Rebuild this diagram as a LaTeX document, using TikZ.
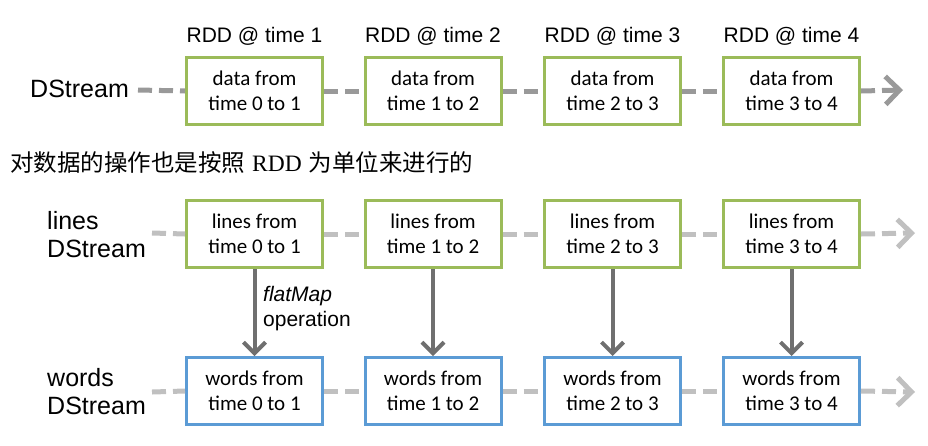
\documentclass[tikz,border=0pt]{standalone}
\usepackage{fontspec}
\setmainfont{Liberation Sans}
\newfontfamily\boxfont{Carlito}
\newfontfamily\cjkfont{Noto Sans CJK SC}
\newfontfamily\romanfont{Liberation Serif}
\usetikzlibrary{arrows.meta,positioning}

\definecolor{rddgreen}{HTML}{9BBB59}
\definecolor{rddblue}{HTML}{5B9BD5}
\definecolor{streamgray}{HTML}{999999}
\definecolor{lightgray}{HTML}{C0C0C0}
\definecolor{opgray}{HTML}{6F6F6F}

\tikzset{
  rdd/.style={draw=#1, line width=3pt, fill=white, minimum width=136pt, minimum height=67pt,
    inner sep=0pt, align=center, font=\boxfont\fontsize{21}{25}\selectfont},
  title/.style={inner sep=0pt, font=\fontsize{21}{25}\selectfont},
  stream/.style={inner sep=0pt, anchor=west, align=left, font=\fontsize{25}{28}\selectfont},
  flow/.style={#1, line width=5pt, dash pattern=on 14pt off 7pt},
  flowend/.style={flow=#1, -{Straight Barb[length=14pt,width=28pt,line width=5pt]}},
  op/.style={opgray, line width=4pt, -{Straight Barb[length=11pt,width=22pt,line width=4pt]}}
}

\begin{document}
\begin{tikzpicture}[x=1pt,y=-1pt]
\useasboundingbox (0,0) rectangle (928,445);

% one DStream, one RDD per time step
\node [stream] (ds) at (30,89) {DStream};
\coordinate (s0) at (138,90);
\coordinate (e0) at (903,90);
\node [rdd=rddgreen] (d1) at (254.5,91) {data from\\time 0 to 1};
\node [rdd=rddgreen] (d2) at (433,91) {data from\\time 1 to 2};
\node [rdd=rddgreen] (d3) at (612.5,91) {data from\\time 2 to 3};
\node [rdd=rddgreen] (d4) at (791.5,91) {data from\\time 3 to 4};
\node [title] (t1) at (254.5,36) {RDD @ time 1};
\node [title] (t2) at (433,36) {RDD @ time 2};
\node [title] (t3) at (612.5,36) {RDD @ time 3};
\node [title] (t4) at (791.5,36) {RDD @ time 4};

\draw[flow=streamgray] (s0) -- (d1.west);
\draw[flow=streamgray] (d1.east) -- (d2.west);
\draw[flow=streamgray] (d2.east) -- (d3.west);
\draw[flow=streamgray] (d3.east) -- (d4.west);
\draw[flowend=streamgray] (d4.east) -- (e0);

\node [inner sep=0pt, anchor=west, font=\cjkfont\fontsize{23.5}{26}\selectfont] (note) at (10,163)
  {对数据的操作也是按照\hspace{7pt}{\romanfont RDD}\hspace{7pt}为单位来进行的};

% lines -> words
\node [stream] (lines) at (47,235) {lines\\DStream};
\node [stream] (words) at (47,392) {words\\DStream};
\coordinate (s1) at (152,233);
\coordinate (e1) at (915,233);
\coordinate (s2) at (152,392);
\coordinate (e2) at (915,392);

\node [rdd=rddgreen] (l1) at (254.5,234) {lines from\\time 0 to 1};
\node [rdd=rddgreen] (l2) at (433,234) {lines from\\time 1 to 2};
\node [rdd=rddgreen] (l3) at (612.5,234) {lines from\\time 2 to 3};
\node [rdd=rddgreen] (l4) at (791.5,234) {lines from\\time 3 to 4};
\node [rdd=rddblue] (w1) at (254.5,391) {words from\\time 0 to 1};
\node [rdd=rddblue] (w2) at (433,391) {words from\\time 1 to 2};
\node [rdd=rddblue] (w3) at (612.5,391) {words from\\time 2 to 3};
\node [rdd=rddblue] (w4) at (791.5,391) {words from\\time 3 to 4};

\draw[flow=lightgray] (s1) -- (l1.west);
\draw[flow=lightgray] (l1.east) -- (l2.west);
\draw[flow=lightgray] (l2.east) -- (l3.west);
\draw[flow=lightgray] (l3.east) -- (l4.west);
\draw[flowend=lightgray] (l4.east) -- (e1);
\draw[flow=lightgray] (s2) -- (w1.west);
\draw[flow=lightgray] (w1.east) -- (w2.west);
\draw[flow=lightgray] (w2.east) -- (w3.west);
\draw[flow=lightgray] (w3.east) -- (w4.west);
\draw[flowend=lightgray] (w4.east) -- (e2);

\draw[op] (l1) -- (w1);
\draw[op] (l2) -- (w2);
\draw[op] (l3) -- (w3);
\draw[op] (l4) -- (w4);
\node [inner sep=0pt, anchor=west, align=left, font=\fontsize{21}{25}\selectfont] (fm) at (263,309)
  {\itshape flatMap\\operation};

\end{tikzpicture}
\end{document}
